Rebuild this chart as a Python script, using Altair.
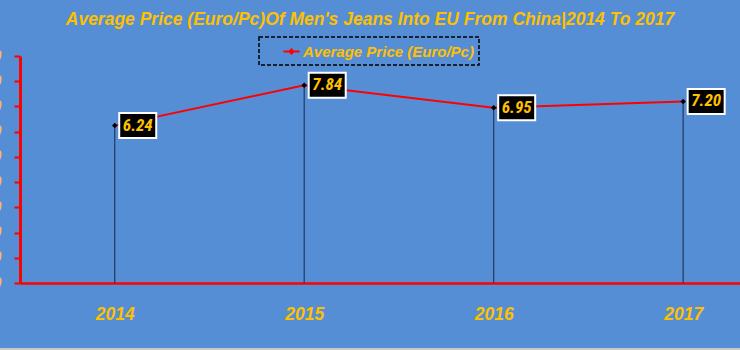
import altair as alt
import pandas as pd

years = [2014, 2015, 2016, 2017]
prices = [6.24, 7.84, 6.95, 7.20]
labels = ["6.24", "7.84", "6.95", "7.20"]
series_name = "Average Price (Euro/Pc)"
title_text = "Average Price (Euro/Pc)Of Men's Jeans Into EU From China|2014 To 2017"
y_ticks = list(range(0, 10))

df = pd.DataFrame({"year": years, "price": prices, "label": labels,
                   "series": [series_name] * len(years), "zero": [0] * len(years)})

FONT = "Liberation Sans, Arial, DejaVu Sans"
NARROW = "Liberation Sans Narrow, Roboto Condensed, Liberation Sans"
YEL = "#FFC000"
BG = "#558ED5"

xscale = alt.Scale(domain=[2013.5, 2017.3], nice=False, zero=False)
yscale = alt.Scale(domain=[0, 9], nice=False)

x_enc = alt.X("year:Q", scale=xscale, axis=alt.Axis(
    values=years, format="d", title=None, ticks=False, grid=False,
    domainColor="red", domainWidth=2.5, labelColor=YEL, labelFont=FONT,
    labelFontSize=17.5, labelFontStyle="italic", labelFontWeight="bold",
    labelPadding=22))
y_enc = alt.Y("price:Q", scale=yscale, axis=alt.Axis(
    values=y_ticks, format=".2f", title=None, grid=False, labelOverlap=False,
    tickCount=10,
    domainColor="red", domainWidth=3, tickColor="red", tickWidth=2, tickSize=6,
    labelColor=YEL, labelFont=FONT, labelFontSize=16, labelFontStyle="italic",
    labelFontWeight="bold", labelPadding=13))

base = alt.Chart(df).encode(x=x_enc, y=y_enc)

drops = base.mark_rule(color="#22395E", strokeWidth=1.2).encode(y2="zero:Q")

line = base.mark_line(strokeWidth=2).encode(
    color=alt.Color("series:N", scale=alt.Scale(range=["#FF0000"]),
                    legend=alt.Legend(
                        title=None, orient="none", legendX=239, legendY=-19,
                        symbolType="M-1,0L1,0M-0.25,0L0,-0.25L0.25,0L0,0.25Z",
                        symbolSize=260, symbolStrokeWidth=2, symbolFillColor="black",
                        symbolOffset=18, labelLimit=400,
                        labelColor=YEL, labelFont=FONT, labelFontSize=15,
                        labelFontStyle="italic", labelFontWeight="bold",
                        padding=5, labelOffset=2,
                        strokeColor="black")))

points = base.mark_point(shape="diamond", filled=True, color="black", size=30,
                         opacity=1)

boxes = base.mark_rect(width=37, height=25, xOffset=23, fill="black",
                       stroke="white", strokeWidth=2)

texts = base.mark_text(dx=23, font=NARROW, fontSize=17, fontStyle="italic",
                       fontWeight="bold", color=YEL, baseline="middle").encode(
    text="label:N")

# light grey bottom edge of the chart frame (decoration)
frame_bottom = alt.Chart(df).mark_rule(color="#C8C8C8", strokeWidth=2).encode(
    x=alt.value(-20), x2=alt.value(720), y=alt.value(293))

chart = alt.layer(drops, line, points, boxes, texts, frame_bottom).properties(
    width=720, height=227,
    title=alt.TitleParams(title_text, color=YEL, font=FONT, fontSize=17.5,
                          fontStyle="italic", fontWeight="bold", anchor="middle",
                          dx=-10, offset=8),
    autosize=alt.AutoSizeParams(type="none"),
    padding={"left": 20, "top": 56, "right": 0, "bottom": 67},
    background=BG,
).configure_view(stroke=None).configure_legend(
    strokeDash=[4, 2], strokeWidth=1.5, strokeColor="black")

chart.save("out.html", embed_options={"renderer": "svg", "actions": False})
